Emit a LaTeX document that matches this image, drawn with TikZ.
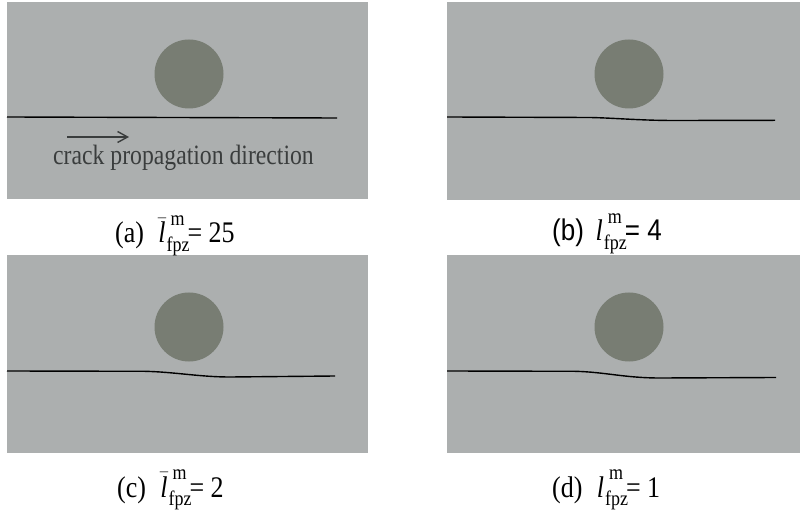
\documentclass[tikz,border=0pt]{standalone}
\usepackage{fontspec}
\setmainfont{Liberation Serif}
\newfontfamily\lsans{Liberation Sans}
\usetikzlibrary{arrows.meta}
\definecolor{panelgray}{HTML}{ACAFAF}
\definecolor{inclgray}{HTML}{787D73}
\definecolor{txtgray}{HTML}{3A3D3D}
\newcommand{\scr}{\fontsize{18}{20}\selectfont}
\newcommand{\lsym}[1]{#1\kern1pt\rlap{\raisebox{-7.5pt}{\scr fpz}}\kern4pt\raisebox{15.5pt}{\scr m}\kern3pt}
\newcommand{\lbar}{\lsym{$\bar{\textit{l}}$}}
\newcommand{\lplain}{\lsym{\textit{l}}}
\begin{document}
\begin{tikzpicture}[x=1pt,y=-1pt,
  panel/.style={fill=panelgray,draw=none},
  incl/.style={fill=inclgray,draw=none},
  crack/.style={draw=black,line width=1.4pt},
  lab/.style={anchor=base west,inner sep=0pt,font=\fontsize{26}{30}\selectfont},
  ctext/.style={anchor=base west,inner sep=0pt,text=txtgray,font=\fontsize{23.7}{27}\selectfont}]
\useasboundingbox (0,0) rectangle (800,510);
% panels
\fill[panel] (7,2) rectangle (368,199);
\fill[panel] (447,2) rectangle (800,200);
\fill[panel] (7,255) rectangle (368,453);
\fill[panel] (447,255) rectangle (800,453);
% inclusions
\fill[incl] (189,74) circle (34.5);
\fill[incl] (629,74) circle (34.5);
\fill[incl] (189,327) circle (34.5);
\fill[incl] (629,327) circle (34.5);
% cracks
\draw[crack] (7,117) -- (337,118);
\draw[crack] (447,117) -- (590,117.5) .. controls (615,118) and (640,120.5) .. (675,120.5) -- (775,120.3);
\draw[crack] (7,371) -- (145,371.3) .. controls (175,372) and (200,377) .. (230,377) -- (335,376);
\draw[crack] (447,371) -- (575,371.3) .. controls (605,372) and (625,378) .. (660,378) -- (776,377.5);
% arrow and text
\coordinate (arrS) at (67,137);
\coordinate (arrE) at (129,137);
\draw[txtgray,line width=1.4pt,-{Straight Barb[length=10pt,width=11pt,line width=1.4pt]}] (arrS) -- (arrE);
\node[ctext] (ct) at (53,165) {\scalebox{1}[1.18]{crack propagation direction}};
% labels
\node[lab] (la) at (115,243) {\scalebox{1}[1.15]{(a)\hspace{0.55em}\lbar= 25}};
\node[lab] (lb) at (552,241) {\scalebox{1}[1.15]{{\lsans (b)}\hspace{0.45em}\lplain{\lsans = 4}}};
\node[lab] (lc) at (117,497) {\scalebox{1}[1.15]{(c)\hspace{0.55em}\lbar= 2}};
\node[lab] (ld) at (552,497) {\scalebox{1}[1.15]{(d)\hspace{0.55em}\lplain= 1}};
\end{tikzpicture}
\end{document}
